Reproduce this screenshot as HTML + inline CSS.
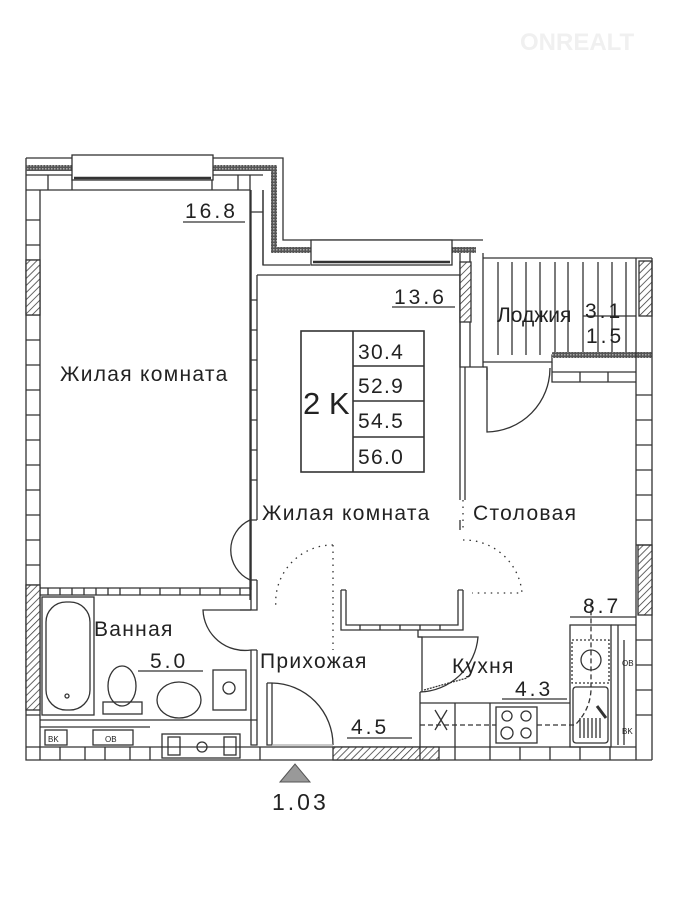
<!DOCTYPE html>
<html><head><meta charset="utf-8"><style>
html,body{margin:0;padding:0;background:#fff;}
svg{display:block}
text{font-family:"Liberation Sans Narrow","Liberation Sans",sans-serif;fill:#222;}
.n{letter-spacing:3px}
</style></head><body>
<svg width="681" height="910" viewBox="0 0 681 910" xmlns="http://www.w3.org/2000/svg">
<defs>
<pattern id="h" width="5" height="5" patternUnits="userSpaceOnUse" patternTransform="rotate(45)">
<rect width="5" height="5" fill="#fff"/><line x1="0" y1="0" x2="0" y2="5" stroke="#333" stroke-width="1.5"/></pattern>
<pattern id="dk" width="3" height="3" patternUnits="userSpaceOnUse"><rect width="3" height="3" fill="#555"/><rect width="1.5" height="1.5" fill="#aaa"/></pattern>
</defs>
<text x="520" y="50" font-size="24" style="fill:#f0f0f0" font-weight="bold">ONREALT</text>
<g fill="none" stroke="#333" stroke-width="1.3">
<path d="M26 158 H283 V240 H483 M26 158 V760 H652"/>
<path d="M40 190 V747 H636 M40 190 H250 V590"/>
<path d="M263 190 V265 M257 275 H460 V367 M257 275 V520"/>
<rect x="26" y="165" width="245" height="6" fill="url(#dk)" stroke="none"/>
<rect x="271" y="165" width="6" height="88" fill="url(#dk)" stroke="none"/>
<rect x="271" y="247" width="205" height="6" fill="url(#dk)" stroke="none"/>
<path d="M26 175 H263 M26 190 H40"/>
<path d="M48 175 V190 M72 175 V190 M212 175 V190 M238 175 V190 M250 175 V190"/>
<path d="M263 190 V265 H310 M263 212 H251 M251 190 V590"/>
<path d="M26 220 H40 M26 245 H40 M26 260 H40 M26 315 H40 M26 340 H40 M26 365 H40 M26 390 H40 M26 415 H40 M26 440 H40 M26 465 H40 M26 490 H40 M26 515 H40 M26 540 H40 M26 565 H40 M26 585 H40"/>
<rect x="26" y="260" width="14" height="55" fill="url(#h)"/>
<rect x="26" y="585" width="14" height="125" fill="url(#h)"/>
<rect x="72" y="155" width="141" height="25" fill="#fff"/>
<path d="M74 178 H211" stroke-width="2.5"/>
<rect x="311" y="240" width="141" height="25" fill="#fff"/>
<path d="M313 262 H450" stroke-width="2.5"/>
<path d="M251 240 V590 M251 300 H257 M251 330 H257 M251 360 H257 M251 390 H257 M251 420 H257 M251 450 H257 M251 480 H257"/>
<path d="M460 253 V367 H483 V253 M470 253 V367"/>
<rect x="460" y="262" width="11" height="60" fill="url(#h)"/>
<path d="M483 258 H652 M483 362 H552 V355 H652"/>
<path d="M498 262 V355 M512 262 V355 M526 262 V355 M540 262 V355 M555 262 V355 M568 262 V355 M583 262 V355 M598 262 V355 M612 262 V355 M626 262 V355"/>
<rect x="552" y="352" width="100" height="6" fill="url(#dk)" stroke="none"/>
<rect x="639" y="261" width="13" height="55" fill="url(#h)"/>
<path d="M636 258 V747 M652 258 V760"/>
<rect x="638" y="545" width="14" height="70" fill="url(#h)"/>
<path d="M636 395 H652 M636 420 H652 M636 445 H652 M636 470 H652 M636 495 H652 M636 520 H652 M636 545 H652 M636 640 H652 M636 665 H652 M636 690 H652 M636 715 H652"/>
<path d="M552 362 V382 H636 M552 372 H636 M580 372 V382 M608 372 V382"/>
<path d="M487 368 V432 A64 64 0 0 0 550 368"/>
<path d="M483 367 H487 V380"/>
<path d="M460 367 V500 M465 367 V500"/>
<path d="M460 520 V530"/>
<rect x="301" y="331" width="123" height="141" stroke-width="1.6"/>
<path d="M353 331 V472 M353 366 H424 M353 401 H424 M353 437 H424" stroke-width="1.6"/>
<path d="M40 588 H250 M40 595 H250 M250 588 V600"/>
<path d="M48 588 V595 M60 588 V595 M72 588 V595 M84 588 V595 M96 588 V595 M108 588 V595 M120 588 V595 M140 588 V595 M160 588 V595 M180 588 V595 M200 588 V595 M220 588 V595 M240 588 V595"/>
<rect x="42" y="597" width="52" height="118"/>
<rect x="46" y="602" width="44" height="108" rx="20"/>
<circle cx="67" cy="696" r="2"/>
<ellipse cx="122" cy="686" rx="14" ry="20"/>
<rect x="103" y="702" width="39" height="12"/>
<ellipse cx="179" cy="700" rx="22" ry="18"/>
<rect x="213" y="670" width="33" height="40"/>
<circle cx="229" cy="688" r="6"/>
<path d="M40 720 H257 M40 727 H150"/>
<rect x="45" y="730" width="22" height="15"/><text x="48" y="742" font-size="8" stroke="none">BK</text>
<rect x="93" y="730" width="40" height="15"/><text x="105" y="742" font-size="8" stroke="none">OB</text>
<rect x="162" y="734" width="78" height="24"/>
<rect x="168" y="737" width="12" height="18"/><rect x="224" y="737" width="12" height="18"/>
<circle cx="202" cy="747" r="5"/>
<path d="M26 747 H40 M26 715 H40"/>
<path d="M40 760 V747 M60 760 V747 M85 760 V747 M105 760 V747 M130 760 V747 M150 760 V747 M260 760 V747"/>
<path d="M251 590 V610 H257 V580 M251 610 H240 M251 650 V745 H257 V650 M251 650 H257"/>
<path d="M257 520 H250 A33 33 0 0 0 250 580 H257"/>
<path d="M251 610 H203 A42 42 0 0 0 251 650"/>
<path d="M267 683 V745 H272 V683 H267 M272 683 A62 62 0 0 1 333 745"/>
<path d="M272 745 H333" stroke="#aaa"/>
<rect x="333" y="747" width="106" height="13" fill="url(#h)"/>
<path d="M333 545 V650" stroke-dasharray="1.5 5"/>
<path d="M333 545 A57 57 0 0 0 276 608" stroke-dasharray="1.5 5"/>
<path d="M463 540 A58 58 0 0 1 522 593 H472" stroke-dasharray="1.5 5"/>
<path d="M463 500 V530" stroke-dasharray="1.5 5"/>
<path d="M341 590 V630 H463 V590 M346 590 V625 H458 V590 M341 590 H346 M458 590 H463"/>
<path d="M360 625 V630 M380 625 V630 M400 625 V630 M420 625 V630 M440 625 V630"/>
<path d="M418 630 V637 H478 A60 60 0 0 1 420 692"/>
<path d="M418 637 H422 V692"/>
<path d="M424 690 L467 678" stroke-dasharray="2 1"/>
<path d="M420 692 V747 M420 703 H570 M455 703 V747 M490 703 V747"/>
<rect x="496" y="707" width="41" height="36"/>
<circle cx="507" cy="716" r="5"/><circle cx="526" cy="716" r="5"/>
<circle cx="507" cy="733" r="6"/><circle cx="526" cy="733" r="5"/>
<path d="M435 710 L447 730 M447 710 L435 730"/>
<path d="M420 725 H496 M537 725 H575 Q590 710 591 690 V600" stroke-dasharray="5 3"/>
<rect x="570" y="625" width="41" height="122"/>
<rect x="572" y="640" width="37" height="43" stroke-dasharray="2 2"/>
<circle cx="591" cy="660" r="10"/>
<rect x="573" y="687" width="35" height="56" rx="3"/>
<path d="M580 718 V738 M584 718 V738 M588 718 V738 M592 718 V738 M596 718 V738 M600 718 V738"/>
<path d="M597 706 L606 718" stroke-width="3"/>
<path d="M611 625 H636 M618 625 V745 M624 640 V745"/>
<text x="622" y="666" font-size="8" stroke="none">OB</text>
<text x="622" y="734" font-size="8" stroke="none">BK</text>
<path d="M420 760 V747 M455 760 V747 M490 760 V747 M520 760 V747 M550 760 V747 M580 760 V747 M610 760 V747 M636 760 V747"/>
<path d="M183 222 H245 M392 307 H455 M583 316 H636 M138 671 H203 M502 699 H567 M347 738 H412 M570 617 H636"/>
</g>
<g font-size="21" letter-spacing="1.3">
<text class="n" x="185" y="218">16.8</text>
<text class="n" x="394" y="304">13.6</text>
<text x="60" y="381">Жилая  комната</text>
<text x="262" y="520">Жилая  комната</text>
<text x="473" y="520">Столовая</text>
<text x="497" y="322" letter-spacing="0">Лоджия</text>
<text class="n" x="585" y="318">3.1</text>
<text class="n" x="586" y="343">1.5</text>
<text x="94" y="636">Ванная</text>
<text class="n" x="150" y="668">5.0</text>
<text x="260" y="668">Прихожая</text>
<text x="452" y="673">Кухня</text>
<text class="n" x="515" y="696">4.3</text>
<text class="n" x="351" y="734">4.5</text>
<text class="n" x="583" y="613">8.7</text>
<text x="358" y="359">30.4</text>
<text x="358" y="393">52.9</text>
<text x="358" y="428">54.5</text>
<text x="358" y="464">56.0</text>
<text x="303" y="414" font-size="31" letter-spacing="0">2 K</text>
<text class="n" x="272" y="810" font-size="23">1.03</text>
</g>
<polygon points="280,782 295,764 310,782" fill="#999" stroke="#555"/>
</svg>
</body></html>
